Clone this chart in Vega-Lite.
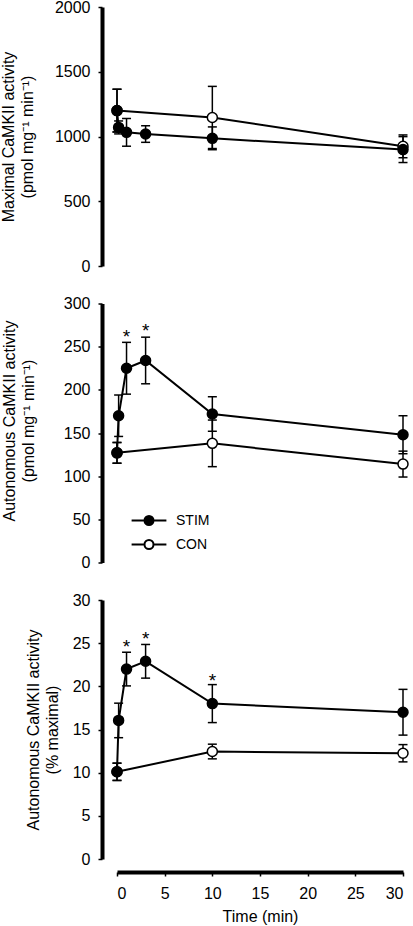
{
  "$schema": "https://vega.github.io/schema/vega-lite/v6.json",
  "autosize": {"type": "none"},
  "padding": {"left": 117, "top": 7, "right": 296, "bottom": 919},
  "background": "white",
  "datasets": {
    "pts": [
      {"panel": "max", "series": "CON", "t": 0, "v": 1200, "lo": 1035, "hi": 1365},
      {"panel": "max", "series": "CON", "t": 10, "v": 1147, "lo": 907, "hi": 1387},
      {"panel": "max", "series": "CON", "t": 30, "v": 924, "lo": 836, "hi": 1012},
      {"panel": "max", "series": "STIM", "t": 0, "v": 1200, "lo": 1035, "hi": 1365},
      {"panel": "max", "series": "STIM", "t": 0.17, "v": 1070, "lo": 1020, "hi": 1120},
      {"panel": "max", "series": "STIM", "t": 1, "v": 1032, "lo": 925, "hi": 1139},
      {"panel": "max", "series": "STIM", "t": 3, "v": 1019, "lo": 955, "hi": 1083},
      {"panel": "max", "series": "STIM", "t": 10, "v": 986, "lo": 898, "hi": 1074},
      {"panel": "max", "series": "STIM", "t": 30, "v": 899, "lo": 799, "hi": 999},
      {"panel": "aut", "series": "CON", "t": 0, "v": 127, "lo": 115, "hi": 139},
      {"panel": "aut", "series": "CON", "t": 10, "v": 138, "lo": 111, "hi": 165},
      {"panel": "aut", "series": "CON", "t": 30, "v": 114, "lo": 99, "hi": 129},
      {"panel": "aut", "series": "STIM", "t": 0, "v": 127, "lo": 115, "hi": 139},
      {"panel": "aut", "series": "STIM", "t": 0.17, "v": 170, "lo": 146, "hi": 194},
      {"panel": "aut", "series": "STIM", "t": 1, "v": 225, "lo": 195, "hi": 255},
      {"panel": "aut", "series": "STIM", "t": 3, "v": 234, "lo": 207, "hi": 261},
      {"panel": "aut", "series": "STIM", "t": 10, "v": 172, "lo": 152, "hi": 192},
      {"panel": "aut", "series": "STIM", "t": 30, "v": 148, "lo": 126, "hi": 170},
      {"panel": "pct", "series": "CON", "t": 0, "v": 10.1, "lo": 9.1, "hi": 11.1},
      {"panel": "pct", "series": "CON", "t": 10, "v": 12.45, "lo": 11.6, "hi": 13.3},
      {"panel": "pct", "series": "CON", "t": 30, "v": 12.25, "lo": 11.25, "hi": 13.25},
      {"panel": "pct", "series": "STIM", "t": 0, "v": 10.1, "lo": 9.1, "hi": 11.1},
      {"panel": "pct", "series": "STIM", "t": 0.17, "v": 16.05, "lo": 14.05, "hi": 18.05},
      {"panel": "pct", "series": "STIM", "t": 1, "v": 22.0, "lo": 20.05, "hi": 23.95},
      {"panel": "pct", "series": "STIM", "t": 3, "v": 22.9, "lo": 20.95, "hi": 24.85},
      {"panel": "pct", "series": "STIM", "t": 10, "v": 18.0, "lo": 15.8, "hi": 20.2},
      {"panel": "pct", "series": "STIM", "t": 30, "v": 17.0, "lo": 14.35, "hi": 19.65}
    ],
    "stars": [
      {"panel": "aut", "t": 1, "v": 267, "label": "*"},
      {"panel": "aut", "t": 3, "v": 274, "label": "*"},
      {"panel": "pct", "t": 1, "v": 25.1, "label": "*"},
      {"panel": "pct", "t": 3, "v": 26.1, "label": "*"},
      {"panel": "pct", "t": 10, "v": 21.2, "label": "*"}
    ]
  },
  "spacing": 37.5,
  "bounds": "flush",
  "resolve": {
    "scale": {"x": "independent", "y": "independent", "fill": "independent"},
    "axis": {"x": "independent", "y": "independent"},
    "legend": {"fill": "independent"}
  },
  "vconcat": [
    {
      "width": 286,
      "height": 259,
      "data": {"name": "pts"},
      "transform": [{"filter": "datum.panel === 'max'"}],
      "encoding": {
        "x": {"field": "t", "type": "quantitative", "scale": {"domain": [0, 30], "nice": false, "zero": false}, "axis": null}
      },
      "layer": [
        {"mark": {"type": "rule", "color": "black", "strokeWidth": 1.5},
         "encoding": {"y": {"field": "lo", "type": "quantitative", "scale": {"domain": [0, 2000], "nice": false},
            "axis": {"values": [0, 500, 1000, 1500, 2000], "format": "d", "offset": 15, "title": ["Maximal CaMKII activity", "(pmol mg⁻¹ min⁻¹)"], "titlePadding": 18.5}},
           "y2": {"field": "hi"}}},
        {"mark": {"type": "tick", "orient": "horizontal", "size": 9, "thickness": 1.5, "color": "black", "opacity": 1},
         "encoding": {"y": {"field": "lo", "type": "quantitative"}}},
        {"mark": {"type": "tick", "orient": "horizontal", "size": 9, "thickness": 1.5, "color": "black", "opacity": 1},
         "encoding": {"y": {"field": "hi", "type": "quantitative"}}},
        {"mark": {"type": "line", "color": "black", "strokeWidth": 2},
         "encoding": {"y": {"field": "v", "type": "quantitative"}, "detail": {"field": "series"}}},
        {"mark": {"type": "point", "shape": "circle", "filled": true, "size": 100, "stroke": "black", "strokeWidth": 1.5, "opacity": 1},
         "encoding": {"y": {"field": "v", "type": "quantitative"},
           "fill": {"field": "series", "type": "nominal", "scale": {"domain": ["STIM", "CON"], "range": ["black", "white"]}, "legend": null}}}
      ]
    },
    {
      "width": 286,
      "height": 259,
      "encoding": {
        "x": {"field": "t", "type": "quantitative", "scale": {"domain": [0, 30], "nice": false, "zero": false}, "axis": null}
      },
      "layer": [
        {"data": {"name": "pts"}, "transform": [{"filter": "datum.panel === 'aut'"}],
         "mark": {"type": "rule", "color": "black", "strokeWidth": 1.5},
         "encoding": {"y": {"field": "lo", "type": "quantitative", "scale": {"domain": [0, 300], "nice": false},
            "axis": {"values": [0, 50, 100, 150, 200, 250, 300], "format": "d", "offset": 15, "title": ["Autonomous CaMKII activity", "(pmol mg⁻¹ min⁻¹)"], "titlePadding": 26.5, "titleY": 117}},
           "y2": {"field": "hi"}}},
        {"data": {"name": "pts"}, "transform": [{"filter": "datum.panel === 'aut'"}],
         "mark": {"type": "tick", "orient": "horizontal", "size": 9, "thickness": 1.5, "color": "black", "opacity": 1},
         "encoding": {"y": {"field": "lo", "type": "quantitative"}}},
        {"data": {"name": "pts"}, "transform": [{"filter": "datum.panel === 'aut'"}],
         "mark": {"type": "tick", "orient": "horizontal", "size": 9, "thickness": 1.5, "color": "black", "opacity": 1},
         "encoding": {"y": {"field": "hi", "type": "quantitative"}}},
        {"data": {"name": "pts"}, "transform": [{"filter": "datum.panel === 'aut'"}],
         "mark": {"type": "line", "color": "black", "strokeWidth": 2},
         "encoding": {"y": {"field": "v", "type": "quantitative"}, "detail": {"field": "series"}}},
        {"data": {"name": "pts"}, "transform": [{"filter": "datum.panel === 'aut'"}],
         "mark": {"type": "point", "shape": "circle", "filled": true, "size": 100, "stroke": "black", "strokeWidth": 1.5, "opacity": 1},
         "encoding": {"y": {"field": "v", "type": "quantitative"},
           "fill": {"field": "series", "type": "nominal", "scale": {"domain": ["STIM", "CON"], "range": ["black", "white"]},
             "legend": {"orient": "none", "legendX": 25, "legendY": 210, "title": null, "padding": 0,
               "symbolType": "M-2.9,0H-0.75M0.75,0H2.9M-0.75,0A0.75,0.75,0,1,0,0.75,0A0.75,0.75,0,1,0,-0.75,0Z",
               "symbolSize": 144, "symbolStrokeColor": "black", "symbolStrokeWidth": 2, "symbolOpacity": 1,
               "labelOffset": 20, "rowPadding": 6, "labelFont": "Liberation Sans", "labelFontSize": 14, "labelColor": "black"}}}},
        {"data": {"name": "stars"}, "transform": [{"filter": "datum.panel === 'aut'"}],
         "mark": {"type": "text", "fontSize": 19, "font": "Liberation Sans", "baseline": "alphabetic", "dy": 11, "color": "black"},
         "encoding": {"y": {"field": "v", "type": "quantitative"}, "text": {"field": "label"}}}
      ]
    },
    {
      "width": 286,
      "height": 259,
      "encoding": {
        "x": {"field": "t", "type": "quantitative", "scale": {"domain": [0, 30], "nice": false, "zero": false},
          "axis": {"values": [0, 5, 10, 15, 20, 25, 30], "offset": 13, "title": "Time (min)", "labelPadding": 9, "titlePadding": 7}}
      },
      "layer": [
        {"data": {"name": "pts"}, "transform": [{"filter": "datum.panel === 'pct'"}],
         "mark": {"type": "rule", "color": "black", "strokeWidth": 1.5},
         "encoding": {"y": {"field": "lo", "type": "quantitative", "scale": {"domain": [0, 30], "nice": false},
            "axis": {"values": [0, 5, 10, 15, 20, 25, 30], "format": "d", "offset": 15, "title": ["Autonomous CaMKII activity", "(% maximal)"], "titlePadding": 11.3}},
           "y2": {"field": "hi"}}},
        {"data": {"name": "pts"}, "transform": [{"filter": "datum.panel === 'pct'"}],
         "mark": {"type": "tick", "orient": "horizontal", "size": 9, "thickness": 1.5, "color": "black", "opacity": 1},
         "encoding": {"y": {"field": "lo", "type": "quantitative"}}},
        {"data": {"name": "pts"}, "transform": [{"filter": "datum.panel === 'pct'"}],
         "mark": {"type": "tick", "orient": "horizontal", "size": 9, "thickness": 1.5, "color": "black", "opacity": 1},
         "encoding": {"y": {"field": "hi", "type": "quantitative"}}},
        {"data": {"name": "pts"}, "transform": [{"filter": "datum.panel === 'pct'"}],
         "mark": {"type": "line", "color": "black", "strokeWidth": 2},
         "encoding": {"y": {"field": "v", "type": "quantitative"}, "detail": {"field": "series"}}},
        {"data": {"name": "pts"}, "transform": [{"filter": "datum.panel === 'pct'"}],
         "mark": {"type": "point", "shape": "circle", "filled": true, "size": 100, "stroke": "black", "strokeWidth": 1.5, "opacity": 1},
         "encoding": {"y": {"field": "v", "type": "quantitative"},
           "fill": {"field": "series", "type": "nominal", "scale": {"domain": ["STIM", "CON"], "range": ["black", "white"]}, "legend": null}}},
        {"data": {"name": "stars"}, "transform": [{"filter": "datum.panel === 'pct'"}],
         "mark": {"type": "text", "fontSize": 19, "font": "Liberation Sans", "baseline": "alphabetic", "dy": 11, "color": "black"},
         "encoding": {"y": {"field": "v", "type": "quantitative"}, "text": {"field": "label"}}}
      ]
    }
  ],
  "config": {
    "font": "Liberation Sans",
    "view": {"stroke": null},
    "axis": {
      "domainColor": "black", "domainWidth": 4, "tickColor": "black", "tickWidth": 1.5, "tickSize": 4,
      "labelFont": "Liberation Sans", "labelFontSize": 16, "labelColor": "black", "labelPadding": 8,
      "titleFont": "Liberation Sans", "titleFontSize": 16, "titleFontWeight": "normal", "titleColor": "black",
      "titleLineHeight": 19, "grid": false
    }
  }
}
